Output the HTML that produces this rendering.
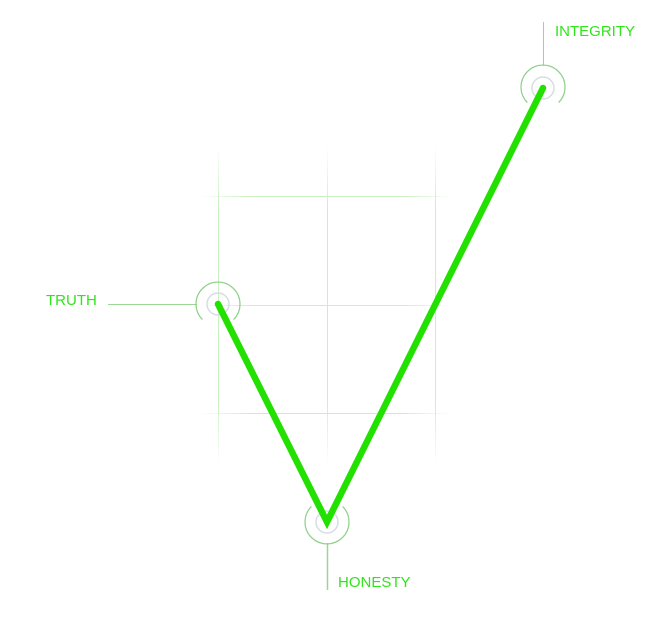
<!DOCTYPE html>
<html><head><style>
html,body{margin:0;padding:0;background:#fff;width:660px;height:640px;overflow:hidden}
text{font-family:"Liberation Sans",sans-serif;fill:#2ee51a;font-size:15px}
</style></head><body>
<svg width="660" height="640" viewBox="0 0 660 640" xmlns="http://www.w3.org/2000/svg">
<defs>
<linearGradient id="gv" x1="0" y1="0" x2="0" y2="1">
<stop offset="0" stop-color="#c8f0c0" stop-opacity="0"/><stop offset="0.2" stop-color="#c8f0c0"/><stop offset="0.8" stop-color="#c8f0c0"/><stop offset="1" stop-color="#c8f0c0" stop-opacity="0"/></linearGradient>
<linearGradient id="gh" x1="0" y1="0" x2="1" y2="0">
<stop offset="0" stop-color="#c8f0c0" stop-opacity="0"/><stop offset="0.2" stop-color="#c8f0c0"/><stop offset="0.8" stop-color="#c8f0c0"/><stop offset="1" stop-color="#c8f0c0" stop-opacity="0"/></linearGradient>
</defs>
<g stroke-width="1">
<rect x="218" y="145" width="1" height="320" fill="url(#gv)"/>
<rect x="327" y="145" width="1" height="320" fill="url(#gv)"/>
<rect x="435" y="145" width="1" height="320" fill="url(#gv)"/>
<rect x="200" y="196" width="252" height="1" fill="url(#gh)"/>
<rect x="200" y="305" width="252" height="1" fill="url(#gh)"/>
<rect x="200" y="413" width="252" height="1" fill="url(#gh)"/>
</g>
<line x1="108" y1="304.5" x2="197" y2="304.5" stroke="#9cd694" stroke-width="1"/>
<line x1="543.5" y1="22" x2="543.5" y2="66" stroke="#9cd694" stroke-width="1"/>
<line x1="327.5" y1="543" x2="327.5" y2="590" stroke="#9cd694" stroke-width="1.5"/>
<g fill="none" stroke="#8fd08a" stroke-width="1.2">
<path d="M202.4 319.6 A22 22 0 1 1 233.6 319.6"/>
<path d="M311.4 506.4 A22 22 0 1 0 342.6 506.4"/>
<path d="M527.4 102.6 A22 22 0 1 1 558.6 102.6"/>
</g>
<g fill="none" stroke="#d6dde3" stroke-width="1.5">
<circle cx="218" cy="304" r="11"/>
<circle cx="327" cy="522" r="11"/>
<circle cx="543" cy="88" r="11"/>
</g>
<polyline points="218,304 327,522 543,88" fill="none" stroke="#22e000" stroke-width="6.5" stroke-linecap="round" stroke-linejoin="miter"/>
<text x="555" y="36">INTEGRITY</text>
<text x="46" y="305">TRUTH</text>
<text x="338" y="587">HONESTY</text>
</svg>
</body></html>
